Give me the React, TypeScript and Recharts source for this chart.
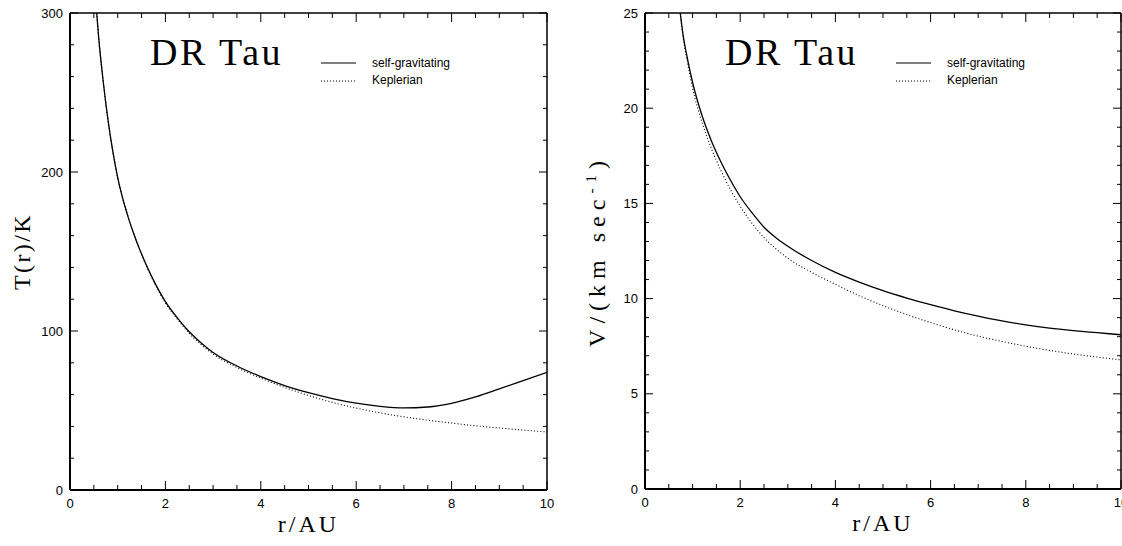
import { LineChart, Line, XAxis, YAxis } from 'recharts';

// r/AU sample points and values
const radiusT = [0.56, 0.6, 0.7, 0.8, 0.9, 1.0, 1.2, 1.4, 1.6, 1.8, 2.0, 2.25, 2.5, 2.75, 3.0, 3.5, 4.0, 4.5, 5.0, 5.5, 6.0, 6.5, 7.0, 7.5, 8.0, 8.5, 9.0, 9.5, 10];
const tempSelfGrav = [300, 285, 256, 232, 212.5, 196.5, 173.5, 156, 141.5, 129, 118.5, 108.3, 99.5, 92.5, 86.5, 78, 71.3, 65.7, 61.2, 57.5, 54.6, 52.6, 51.6, 52.2, 54.5, 58.5, 63.6, 68.8, 74];
const tempKepler = [300, 285, 256, 232, 212.5, 196.5, 173.5, 156, 141, 128.5, 117.5, 107.5, 98.5, 91.5, 85.5, 77, 70.3, 64.5, 59.5, 55.1, 51.5, 48.5, 46, 43.9, 42.1, 40.4, 39, 37.7, 36.5];

const radiusV = [0.74, 0.8, 0.9, 1.0, 1.2, 1.4, 1.6, 1.8, 2.0, 2.25, 2.5, 2.75, 3.0, 3.5, 4.0, 4.5, 5.0, 5.5, 6.0, 6.5, 7.0, 7.5, 8.0, 8.5, 9.0, 9.5, 10];
const velSelfGrav = [25, 23.85, 22.5, 21.35, 19.6, 18.25, 17.15, 16.2, 15.35, 14.5, 13.75, 13.2, 12.75, 12.0, 11.38, 10.87, 10.42, 10.03, 9.68, 9.36, 9.08, 8.83, 8.62, 8.45, 8.32, 8.21, 8.1];
const velKepler = [25, 23.75, 22.3, 21.05, 19.25, 17.85, 16.7, 15.7, 14.85, 13.95, 13.2, 12.62, 12.12, 11.38, 10.75, 10.15, 9.63, 9.16, 8.74, 8.36, 8.03, 7.75, 7.5, 7.28, 7.09, 6.93, 6.78];

const xTicks = [0, 0.5, 1, 1.5, 2, 2.5, 3, 3.5, 4, 4.5, 5, 5.5, 6, 6.5, 7, 7.5, 8, 8.5, 9, 9.5, 10];
const tempTicks = [0, 20, 40, 60, 80, 100, 120, 140, 160, 180, 200, 220, 240, 260, 280, 300];
const velTicks = [0, 1, 2, 3, 4, 5, 6, 7, 8, 9, 10, 11, 12, 13, 14, 15, 16, 17, 18, 19, 20, 21, 22, 23, 24, 25];

const tempData = radiusT.map((r, i) => ({ r, self: tempSelfGrav[i], kep: tempKepler[i] }));
const velData = radiusV.map((r, i) => ({ r, self: velSelfGrav[i], kep: velKepler[i] }));

const SANS = '"Liberation Sans", Arial, sans-serif';
const SERIF = '"Liberation Serif", "Times New Roman", serif';

const isMajor = (v: number, step: number) => Math.abs(v / step - Math.round(v / step)) < 1e-6;

const bottomTick = (step: number) => (props: any) => {
  const { x, y, payload } = props;
  const major = isMajor(payload.value, step);
  return (
    <g>
      <line x1={x} x2={x} y1={y} y2={y - (major ? 9 : 5)} stroke="#000" strokeWidth={1} />
      {major && (
        <text x={x} y={y + 18} textAnchor="middle" fontFamily={SANS} fontSize={13} fill="#000">
          {payload.value}
        </text>
      )}
    </g>
  );
};

const topTick = (step: number) => (props: any) => {
  const { x, y, payload } = props;
  const major = isMajor(payload.value, step);
  return <line x1={x} x2={x} y1={y} y2={y + (major ? 9 : 5)} stroke="#000" strokeWidth={1} />;
};

const leftTick = (step: number) => (props: any) => {
  const { x, y, payload } = props;
  const major = isMajor(payload.value, step);
  return (
    <g>
      <line x1={x} x2={x + (major ? 8 : 4)} y1={y} y2={y} stroke="#000" strokeWidth={1} />
      {major && (
        <text x={x - 7} y={y + 4.5} textAnchor="end" fontFamily={SANS} fontSize={13} fill="#000">
          {payload.value}
        </text>
      )}
    </g>
  );
};

const rightTick = (step: number) => (props: any) => {
  const { x, y, payload } = props;
  const major = isMajor(payload.value, step);
  return <line x1={x} x2={x - (major ? 8 : 4)} y1={y} y2={y} stroke="#000" strokeWidth={1} />;
};

const xLabel = (props: any) => {
  const { x, y, width } = props.viewBox;
  return (
    <text x={x + width / 2} y={y + 42} textAnchor="middle" fontFamily={SERIF} fontSize={24} letterSpacing={3} fill="#000">
      r/AU
    </text>
  );
};

const yLabel = (text: string, sup?: string, tail?: string, spacing = 2.4) => (props: any) => {
  const { x, y, height } = props.viewBox;
  const cx = x + 20;
  const cy = y + height / 2;
  return (
    <text
      x={cx}
      y={cy}
      transform={`rotate(-90 ${cx} ${cy})`}
      textAnchor="middle"
      fontFamily={SERIF}
      fontSize={24}
      letterSpacing={spacing}
      fill="#000"
    >
      {text}
      {sup && (
        <tspan fontSize={15} dy={-9}>
          {sup}
        </tspan>
      )}
      {tail && <tspan dy={9}>{tail}</tspan>}
    </text>
  );
};

function Annotations({ ox }: { ox: number }) {
  return (
    <g>
      <text x={ox + 80} y={65} fontFamily={SERIF} fontSize={38} letterSpacing={2.5} fill="#000">
        DR Tau
      </text>
      <line x1={ox + 251} x2={ox + 286} y1={63} y2={63} stroke="#000" strokeWidth={1.2} />
      <text x={ox + 302} y={67} fontFamily={SANS} fontSize={12} fill="#000">
        self-gravitating
      </text>
      <line x1={ox + 251} x2={ox + 286} y1={81} y2={81} stroke="#000" strokeWidth={1} strokeDasharray="1 2" />
      <text x={ox + 302} y={84} fontFamily={SANS} fontSize={12} fill="#000">
        Keplerian
      </text>
    </g>
  );
}

interface PanelProps {
  data: { r: number; self: number; kep: number }[];
  yMax: number;
  yTicks: number[];
  yStep: number;
  width: number;
  marginRight: number;
  bottomHeight: number;
  label: (props: any) => any;
}

function Panel({ data, yMax, yTicks, yStep, width, marginRight, bottomHeight, label }: PanelProps) {
  return (
    <LineChart width={width} height={546} data={data} margin={{ top: 12, right: marginRight, bottom: 0, left: 10 }}>
      <XAxis
        xAxisId="bottom"
        dataKey="r"
        type="number"
        domain={[0, 10]}
        ticks={xTicks}
        interval={0}
        height={bottomHeight}
        tickLine={false}
        tickSize={0}
        tickMargin={0}
        tick={bottomTick(2)}
        axisLine={{ stroke: '#000', strokeWidth: 2 }}
        label={xLabel}
        allowDataOverflow
      />
      <XAxis
        xAxisId="top"
        orientation="top"
        dataKey="r"
        type="number"
        domain={[0, 10]}
        ticks={xTicks}
        interval={0}
        height={1}
        tickLine={false}
        tickSize={0}
        tickMargin={0}
        tick={topTick(2)}
        axisLine={{ stroke: '#000', strokeWidth: 1.5 }}
        allowDataOverflow
      />
      <YAxis
        yAxisId="left"
        type="number"
        domain={[0, yMax]}
        ticks={yTicks}
        interval={0}
        width={60}
        tickLine={false}
        tickSize={0}
        tickMargin={0}
        tick={leftTick(yStep)}
        axisLine={{ stroke: '#000', strokeWidth: 2 }}
        label={label}
        allowDataOverflow
      />
      <YAxis
        yAxisId="right"
        orientation="right"
        type="number"
        domain={[0, yMax]}
        ticks={yTicks}
        interval={0}
        width={1}
        tickLine={false}
        tickSize={0}
        tickMargin={0}
        tick={rightTick(yStep)}
        axisLine={{ stroke: '#000', strokeWidth: 1.5 }}
        allowDataOverflow
      />
      <Line
        xAxisId="bottom"
        yAxisId="left"
        dataKey="kep"
        type="monotone"
        stroke="#000"
        strokeWidth={1.1}
        strokeDasharray="1 2.2"
        dot={false}
        isAnimationActive={false}
      />
      <Line
        xAxisId="bottom"
        yAxisId="left"
        dataKey="self"
        type="monotone"
        stroke="#000"
        strokeWidth={1.3}
        dot={false}
        isAnimationActive={false}
      />
      <Annotations ox={70} />
    </LineChart>
  );
}

export default function App() {
  return (
    <div style={{ position: 'absolute', left: 0, top: 0, width: 1122, height: 546, background: '#fff', overflow: 'hidden' }}>
      <div style={{ position: 'absolute', left: 0, top: 0 }}>
        <Panel
          data={tempData}
          yMax={300}
          yTicks={tempTicks}
          yStep={100}
          width={575}
          marginRight={27}
          bottomHeight={56}
          label={yLabel('T(r)/K')}
        />
      </div>
      <div style={{ position: 'absolute', left: 575, top: 0 }}>
        <Panel
          data={velData}
          yMax={25}
          yTicks={velTicks}
          yStep={5}
          width={547}
          marginRight={0}
          bottomHeight={57}
          label={yLabel('V/(km sec', '-1', ')', 6)}
        />
      </div>
    </div>
  );
}
